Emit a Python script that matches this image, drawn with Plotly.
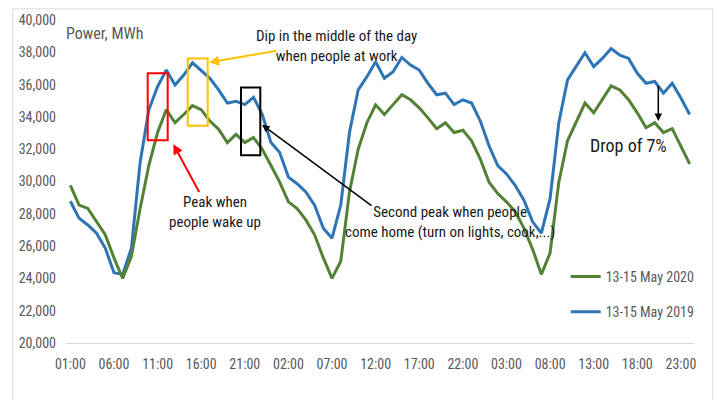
import plotly.graph_objects as go

# ---- data ----
hour_labels = ["01:00","02:00","03:00","04:00","05:00","06:00","07:00","08:00","09:00","10:00","11:00","12:00",
               "13:00","14:00","15:00","16:00","17:00","18:00","19:00","20:00","21:00","22:00","23:00","00:00",
               "01:00","02:00","03:00","04:00","05:00","06:00","07:00","08:00","09:00","10:00","11:00","12:00",
               "13:00","14:00","15:00","16:00","17:00","18:00","19:00","20:00","21:00","22:00","23:00","00:00",
               "01:00","02:00","03:00","04:00","05:00","06:00","07:00","08:00","09:00","10:00","11:00","12:00",
               "13:00","14:00","15:00","16:00","17:00","18:00","19:00","20:00","21:00","22:00","23:00","00:00"]

may_2020 = [29760, 28540, 28330, 27510, 26700, 25270, 24000, 25370, 28330, 31000, 33030, 34450,
            33640, 34150, 34700, 34450, 33740, 33230, 32410, 32920, 32410, 32720, 32000, 30990,
            29960, 28740, 28330, 27620, 26700, 25270, 24000, 25060, 29350, 32000, 33640, 34750,
            34150, 34760, 35370, 35060, 34560, 33940, 33270, 33640, 33030, 33170, 32520, 31390,
            29960, 29250, 28740, 28130, 27110, 25800, 24250, 25570, 29960, 32520, 33640, 34860,
            34250, 35060, 35920, 35670, 35060, 34250, 33330, 33640, 33030, 33270, 32210, 31090]

may_2019 = [28780, 27720, 27310, 26800, 25880, 24350, 24250, 25880, 31190, 34450, 35880, 36900,
            35980, 36590, 37350, 36900, 36390, 35670, 34860, 34970, 34760, 35210, 34150, 32410,
            31800, 30270, 29860, 29350, 28540, 27110, 26490, 28540, 33030, 35670, 36490, 37410,
            36390, 36800, 37680, 37210, 36900, 36080, 35370, 35470, 34760, 35060, 34860, 33740,
            32210, 30990, 30470, 29760, 28850, 27500, 26800, 28940, 33640, 36290, 37110, 37970,
            37110, 37620, 38230, 37820, 37620, 36700, 36080, 36190, 35470, 36080, 35170, 34150]

y_ticks = [20000, 22000, 24000, 26000, 28000, 30000, 32000, 34000, 36000, 38000, 40000]
x_index = list(range(1, len(hour_labels) + 1))
x_tickvals = x_index[::5]
x_ticktext = hour_labels[::5]

# ---- layout helpers (pixel -> paper) ----
W, H = 719, 400
ML, MR, MT, MB = 66, 25, 16, 57
PW, PH = W - ML - MR, H - MT - MB

def px(x):
    return (x - ML) / PW

def py(y):
    return (H - MB - y) / PH

FONT = "Roboto Condensed, DejaVu Sans Condensed, Liberation Sans, sans-serif"
GRAY = "#595959"
GREEN = "#548235"
BLUE = "#2E75B6"

fig = go.Figure()
fig.add_trace(go.Scatter(x=x_index, y=may_2019, mode="lines", name="13-15 May 2019",
                         line=dict(color=BLUE, width=3), legendgroup="b", legendrank=2))
fig.add_trace(go.Scatter(x=x_index, y=may_2020, mode="lines", name="13-15 May 2020",
                         line=dict(color=GREEN, width=3), legendgroup="a", legendrank=1))

shapes = [
    dict(type="rect", xref="paper", yref="paper", x0=px(12.7), x1=px(712.7), y0=py(402), y1=py(4.7),
         line=dict(color="#D9D9D9", width=1), layer="below"),
    dict(type="rect", xref="paper", yref="paper", x0=px(147.7), x1=px(167.7), y0=py(137.7), y1=py(70),
         line=dict(color="#FF0000", width=2)),
    dict(type="rect", xref="paper", yref="paper", x0=px(187.7), x1=px(207.7), y0=py(123), y1=py(55),
         line=dict(color="#FFC000", width=2)),
    dict(type="rect", xref="paper", yref="paper", x0=px(241), x1=px(260.3), y0=py(153), y1=py(84.3),
         line=dict(color="#000000", width=2)),
]

TXT = "#1a1a1a"
annotations = [
    dict(text="Power, MWh", x=px(64), y=py(30), xanchor="left", yanchor="middle",
         font=dict(size=16, color=GRAY, family=FONT)),
    dict(text="Dip in the middle of the day<br>when people at work", x=px(336), y=py(42),
         xanchor="center", yanchor="middle", font=dict(size=15, color=TXT, family=FONT)),
    dict(text="Peak when<br>people wake up", x=px(215), y=py(210),
         xanchor="center", yanchor="middle", font=dict(size=15, color=TXT, family=FONT)),
    dict(text="Second peak when people<br>come home (turn on lights, cook,...)", x=px(450), y=py(221),
         xanchor="center", yanchor="middle", font=dict(size=15, color=TXT, family=FONT)),
    dict(text="Drop of 7%", x=px(628), y=py(143),
         xanchor="center", yanchor="middle", font=dict(size=18, color=TXT, family=FONT)),
    dict(text="", x=px(173.3), y=py(141.7), ax=26.7, ay=49.3, showarrow=True,
         arrowhead=2, arrowsize=1, arrowwidth=2, arrowcolor="#FF0000", standoff=0),
    dict(text="", x=px(209), y=py(59), ax=69, ay=-12, showarrow=True,
         arrowhead=2, arrowsize=1, arrowwidth=2, arrowcolor="#FFC000", standoff=0),
    dict(text="", x=px(262), y=py(122), ax=111, ay=82, showarrow=True,
         arrowhead=2, arrowsize=1, arrowwidth=1.5, arrowcolor="#000000", standoff=0),
    dict(text="", x=px(658.3), y=py(118.3), ax=0, ay=-36.6, showarrow=True,
         arrowhead=2, arrowsize=1, arrowwidth=1.5, arrowcolor="#000000", standoff=0),
]
for a in annotations:
    a.setdefault("xref", "paper")
    a.setdefault("yref", "paper")
    a.setdefault("showarrow", False)

fig.update_layout(
    width=W, height=H,
    margin=dict(l=ML, r=MR, t=MT, b=MB, pad=0),
    paper_bgcolor="white", plot_bgcolor="white",
    font=dict(family=FONT, size=14, color=GRAY),
    showlegend=True,
    legend=dict(x=px(565.7), y=py(260), xanchor="left", yanchor="top",
                traceorder="grouped", tracegroupgap=14,
                font=dict(size=14, color=GRAY, family=FONT), bgcolor="rgba(0,0,0,0)"),
    shapes=shapes,
    annotations=annotations,
    xaxis=dict(range=[0.5, len(hour_labels) + 0.5], tickvals=x_tickvals, ticktext=x_ticktext,
               showgrid=False, zeroline=False, showline=True, linecolor="#D9D9D9", linewidth=1,
               ticks="", ticklabelstandoff=8, tickfont=dict(size=14, color=GRAY), fixedrange=True),
    yaxis=dict(range=[20000, 40000], tickvals=y_ticks, tickformat=",", showgrid=False,
               zeroline=False, showline=False, ticks="", ticklabelstandoff=9,
               tickfont=dict(size=14, color=GRAY), fixedrange=True),
)

fig.write_html("out.html", config={"displayModeBar": False},
               post_script="document.body.style.margin='0';document.body.style.overflow='hidden';")
